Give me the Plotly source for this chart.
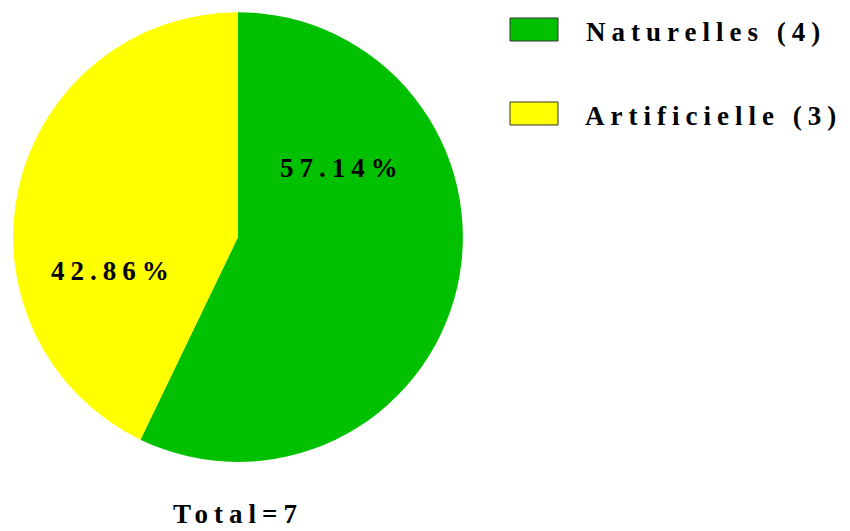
import plotly.graph_objects as go

labels = ["Naturelles", "Artificielle"]
values = [4, 3]
colors = ["#00C000", "#FFFF00"]

total = sum(values)
pcts = [v / total * 100 for v in values]

fnt = dict(family="Liberation Serif, Times New Roman, serif", size=27, color="black", weight="bold")

fig = go.Figure(data=[go.Pie(labels=labels, values=values, sort=False, direction="clockwise",
                             rotation=0, marker=dict(colors=colors, line=dict(width=0)),
                             textinfo="none", hoverinfo="skip",
                             domain=dict(x=[0.0153, 0.5447], y=[0.130, 0.977]))])


def note(x, y, text):
    # x, y in pixels from the top left corner, text centred there
    fig.add_annotation(x=x / 850, y=1 - y / 531, text=text, showarrow=False, font=fnt,
                       xref="paper", yref="paper", xanchor="center", yanchor="middle")


# percent labels on the slices
note(342, 168, "%.2f%%" % pcts[0])
note(113.5, 271, "%.2f%%" % pcts[1])

# hand made legend
legend_y = [29.5, 113.5]
legend_w = [235, 250]
for i in range(len(labels)):
    yc = legend_y[i]
    fig.add_shape(type="rect", xref="paper", yref="paper",
                  x0=510 / 850, x1=558 / 850, y0=1 - (yc + 11.5) / 531, y1=1 - (yc - 11.5) / 531,
                  fillcolor=colors[i], line=dict(color="#333333", width=1))
    note(585 + legend_w[i] / 2 + 3, yc + 3, "%s (%d)" % (labels[i], values[i]))

note(238, 514, "Total=%d" % total)

fig.update_layout(width=850, height=531, showlegend=False, margin=dict(l=0, r=0, t=0, b=0),
                  paper_bgcolor="white", plot_bgcolor="white")

# wide letter spacing like the original
spacing = ("var s=document.createElement('style');"
           "s.innerHTML='body{margin:0} svg text{letter-spacing:6px}';"
           "document.head.appendChild(s);")
fig.write_html("out.html", post_script=spacing, config={"displayModeBar": False})
